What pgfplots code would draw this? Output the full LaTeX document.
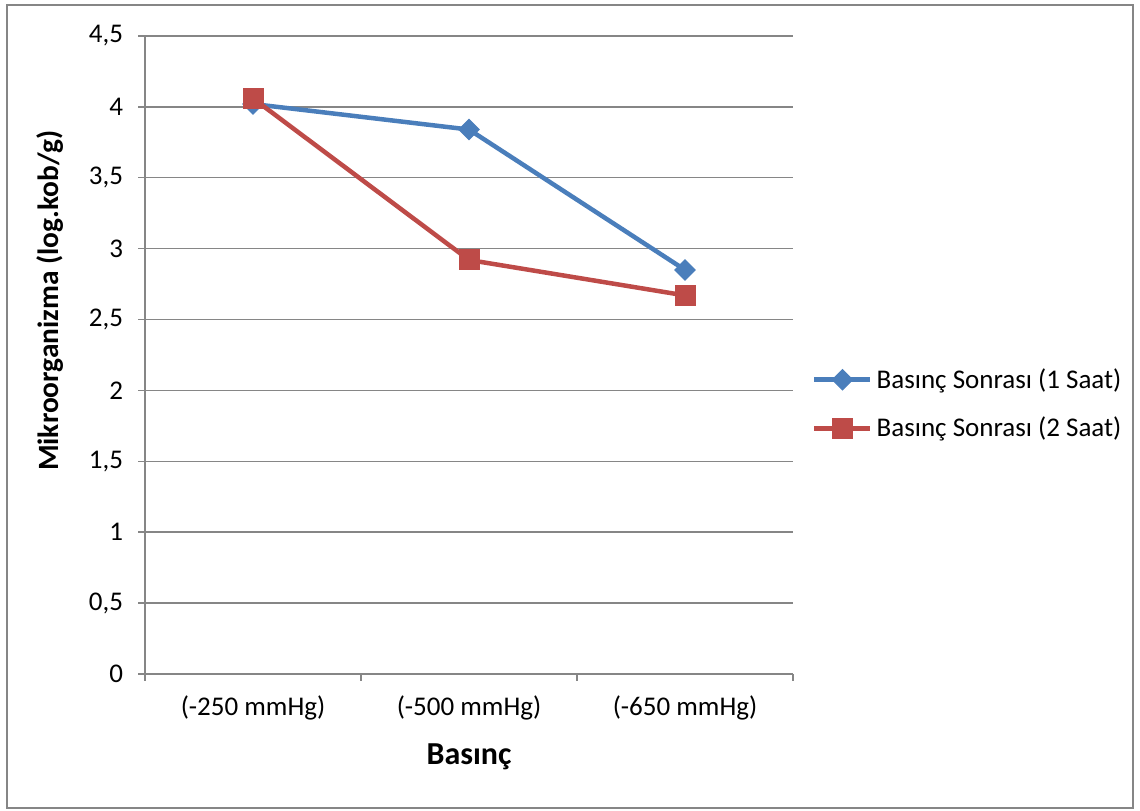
\documentclass[border=0pt]{standalone}
\usepackage{fontspec}
\setmainfont{Carlito}
\usepackage{pgfplots}
\pgfplotsset{compat=1.18}
\definecolor{serA}{HTML}{4A7EBB}
\definecolor{serB}{HTML}{BE4B48}
\definecolor{gridc}{HTML}{868686}
\begin{document}
\begin{tikzpicture}
\begin{axis}[
  width=324pt, height=319pt, scale only axis,
  xmin=0, xmax=3, ymin=0, ymax=4.5,
  axis x line=bottom, axis y line=left,
  axis line style={draw=gridc, line width=0.75pt, -},
  xtick={0,1,2,3}, xticklabels={},
  extra x ticks={0.5,1.5,2.5},
  extra x tick labels={(-250 mmHg),(-500 mmHg),(-650 mmHg)},
  extra x tick style={major tick length=0pt, grid=none, ticklabel style={yshift=-7.5pt}},
  ytick={0,0.5,...,4.5},
  ymajorgrids, grid style={draw=gridc, line width=0.75pt},
  tick align=outside, major tick length=3.5pt,
  tick style={draw=gridc, line width=0.75pt},
  /pgf/number format/assume math mode=true,
  /pgf/number format/use comma,
  yticklabel style={xshift=-4pt},
  tick label style={font=\fontsize{13.5}{16}\selectfont},
  xlabel={Basınç},
  ylabel={Mikroorganizma (log.kob/g)},
  xlabel style={font=\fontsize{16}{19}\selectfont\bfseries, at={(axis description cs:0.5,-0.130)}, anchor=center},
  ylabel style={font=\fontsize{14.7}{17}\selectfont\bfseries, at={(axis description cs:-0.146,0.585)}, anchor=center},
  legend style={draw=none, fill=none, at={(rel axis cs:1.029,0.423)}, anchor=west,
    inner xsep=0pt,
    font=\fontsize{13.5}{16}\selectfont, row sep=9pt,
    /tikz/every even column/.append style={column sep=0pt}},
  legend cell align=left,
  legend image code/.code={\draw[mark repeat=2,mark phase=2,#1] plot coordinates {(0pt,0pt) (14pt,0pt) (28pt,0pt)};},
  clip=false,
]
\addplot[serA, line width=2.25pt, mark=square*, mark size=3.6pt, mark options={solid, fill=serA, draw=serA, line width=0.5pt, rotate=45}]
  coordinates {(0.5,4.02) (1.5,3.84) (2.5,2.85)};
\addlegendentry{Basınç Sonrası (1 Saat)}
\addplot[serB, line width=2.25pt, mark=square*, mark size=5pt, mark options={solid, fill=serB, draw=serB, line width=0.5pt}]
  coordinates {(0.5,4.06) (1.5,2.92) (2.5,2.67)};
\addlegendentry{Basınç Sonrası (2 Saat)}
\coordinate (bbA) at (rel axis cs:-0.2238,-0.2147);
\coordinate (bbB) at (rel axis cs:1.5355,1.0564);
\coordinate (frA) at (rel axis cs:-0.213,-0.210);
\coordinate (frB) at (rel axis cs:1.5247,1.0486);
\end{axis}
\draw[gridc, line width=0.75pt] (frA) rectangle (frB);
\path (bbA) rectangle (bbB);
\end{tikzpicture}
\end{document}
